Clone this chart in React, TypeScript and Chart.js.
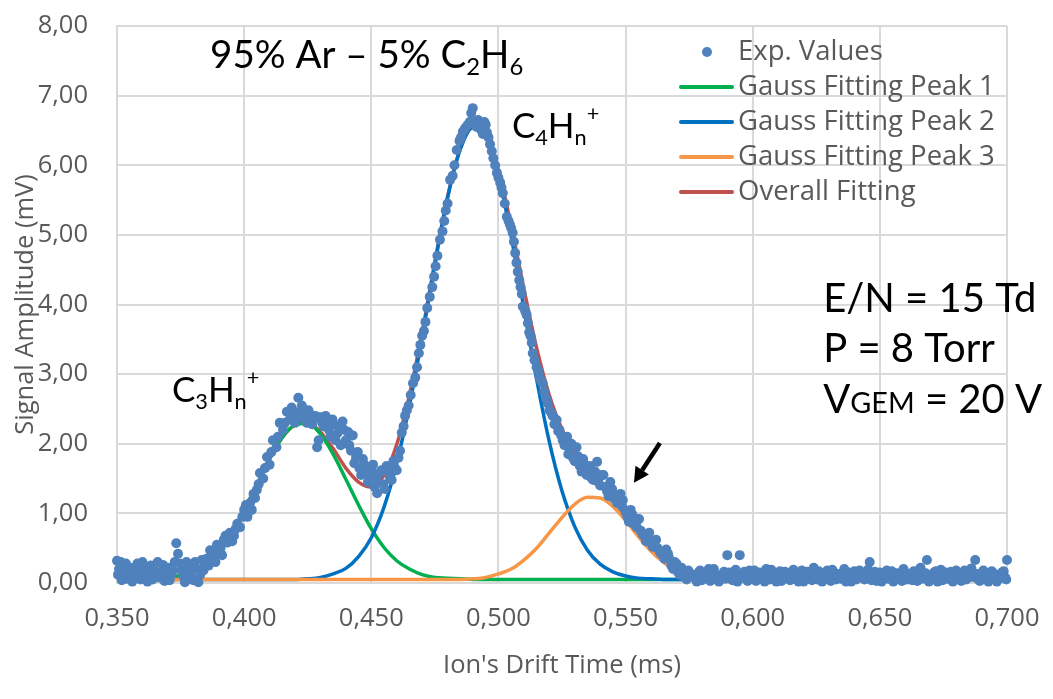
import React, { useEffect, useRef } from "react";
import { Chart, registerables } from "chart.js";

Chart.register(...registerables);

// ---------- DATA ----------
const X_MIN = 0.35;
const X_MAX = 0.7;
const X_STEP = 0.05;
const Y_MIN = 0;
const Y_MAX = 8;
const Y_STEP = 1;

// experimental values [drift time (ms), signal (mV)]
const EXP_POINTS: [number, number][] = [
  [0.3500, 0.32], [0.3508, 0.20], [0.3515, 0.30], [0.3523, 0.10], [0.3530, 0.24], [0.3540, 0.06],
  [0.3553, 0.22], [0.3567, 0.12], [0.3580, 0.28], [0.3593, 0.05], [0.3607, 0.20], [0.3620, 0.02],
  [0.3633, 0.25], [0.3647, 0.10], [0.3660, 0.30], [0.3673, 0.15], [0.3687, 0.03], [0.3700, 0.22],
  [0.3713, 0.12], [0.3727, 0.30], [0.3733, 0.57], [0.3740, 0.42], [0.3753, 0.18], [0.3767, 0.01],
  [0.3780, 0.25], [0.3793, 0.08], [0.3807, 0.30], [0.3820, 0.01], [0.3833, 0.33], [0.3840, 0.18],
  [0.3853, 0.35], [0.3866, 0.47], [0.3880, 0.40], [0.3893, 0.55], [0.3907, 0.50], [0.3920, 0.62],
  [0.3933, 0.58], [0.3944, 0.72], [0.3960, 0.68], [0.3973, 0.85], [0.3984, 0.80], [0.4000, 1.05],
  [0.4013, 0.95], [0.4023, 1.15], [0.4037, 1.28], [0.4050, 1.34], [0.4062, 1.58], [0.4075, 1.50],
  [0.4090, 1.81], [0.4100, 1.70], [0.4113, 2.05], [0.4127, 1.95], [0.4140, 2.30], [0.4153, 2.20],
  [0.4168, 2.46], [0.4180, 2.35], [0.4193, 2.42], [0.4207, 2.45], [0.4213, 2.66], [0.4220, 2.38],
  [0.4233, 2.50], [0.4247, 2.30], [0.4260, 2.42], [0.4273, 2.35], [0.4287, 1.95], [0.4300, 2.38],
  [0.4313, 2.25], [0.4327, 2.32], [0.4340, 2.10], [0.4353, 2.28], [0.4367, 2.15], [0.4380, 1.98],
  [0.4393, 2.20], [0.4409, 2.17], [0.4420, 1.90], [0.4433, 1.72], [0.4447, 1.88], [0.4460, 1.55],
  [0.4473, 1.70], [0.4487, 1.45], [0.4500, 1.62], [0.4513, 1.38], [0.4523, 1.29], [0.4533, 1.58],
  [0.4547, 1.42], [0.4560, 1.68], [0.4573, 1.52], [0.4587, 1.75], [0.4600, 1.62], [0.4613, 1.90],
  [0.4620, 2.16], [0.4633, 2.40], [0.4647, 2.55], [0.4664, 2.87], [0.4673, 2.95], [0.4687, 3.30],
  [0.4700, 3.55], [0.4713, 3.75], [0.4730, 4.11], [0.4740, 4.25], [0.4753, 4.55], [0.4770, 4.93],
  [0.4780, 5.05], [0.4793, 5.35], [0.4810, 5.79], [0.4820, 5.85], [0.4836, 6.22], [0.4847, 6.35],
  [0.4860, 6.48], [0.4873, 6.55], [0.4887, 6.62], [0.4893, 6.75], [0.4899, 6.82], [0.4910, 6.58],
  [0.4920, 6.65], [0.4933, 6.50], [0.4945, 6.62], [0.4955, 6.47], [0.4967, 6.30], [0.4980, 6.10],
  [0.4994, 5.89], [0.5007, 5.75], [0.5017, 5.60], [0.5033, 5.26], [0.5045, 5.15], [0.5056, 5.03],
  [0.5066, 4.74], [0.5076, 4.47], [0.5087, 4.25], [0.5096, 3.97], [0.5106, 3.90], [0.5116, 3.73],
  [0.5126, 3.55], [0.5135, 3.30], [0.5150, 3.10], [0.5162, 2.95], [0.5174, 2.87], [0.5187, 2.65],
  [0.5200, 2.48], [0.5213, 2.40], [0.5229, 2.34], [0.5240, 2.20], [0.5253, 2.05], [0.5270, 2.10],
  [0.5280, 1.91], [0.5293, 1.80], [0.5307, 1.95], [0.5320, 1.68], [0.5333, 1.78], [0.5347, 1.55],
  [0.5360, 1.68], [0.5373, 1.48], [0.5388, 1.74], [0.5400, 1.40], [0.5413, 1.55], [0.5427, 1.32],
  [0.5440, 1.45], [0.5453, 1.22], [0.5467, 1.15], [0.5480, 1.28], [0.5489, 1.19], [0.5500, 1.02],
  [0.5513, 0.88], [0.5527, 0.98], [0.5544, 0.80], [0.5553, 0.92], [0.5567, 0.70], [0.5580, 0.60],
  [0.5593, 0.72], [0.5607, 0.52], [0.5620, 0.62], [0.5634, 0.45], [0.5647, 0.40], [0.5660, 0.48],
  [0.5670, 0.37], [0.5680, 0.25], [0.5693, 0.30], [0.5707, 0.15], [0.5720, 0.22], [0.5733, 0.08],
  [0.5747, 0.18], [0.5767, 0.12], [0.5780, 0.02], [0.5793, 0.18], [0.5807, 0.08], [0.5820, 0.15],
  [0.5833, 0.03], [0.5847, 0.20], [0.5860, 0.10], [0.5873, 0.05], [0.5887, 0.16], [0.5900, 0.40],
  [0.5913, 0.08], [0.5927, 0.14], [0.5940, 0.02], [0.5949, 0.40], [0.5960, 0.12], [0.5973, 0.06],
  [0.5987, 0.18], [0.6000, 0.10], [0.6013, 0.03], [0.6027, 0.15], [0.6040, 0.08], [0.6053, 0.20],
  [0.6067, 0.05], [0.6080, 0.12], [0.6093, 0.02], [0.6107, 0.17], [0.6120, 0.09], [0.6133, 0.14],
  [0.6147, 0.04], [0.6160, 0.19], [0.6173, 0.07], [0.6187, 0.12], [0.6200, 0.02], [0.6213, 0.16],
  [0.6227, 0.10], [0.6240, 0.22], [0.6253, 0.05], [0.6267, 0.13], [0.6280, 0.08], [0.6293, 0.18],
  [0.6307, 0.03], [0.6320, 0.15], [0.6333, 0.10], [0.6347, 0.06], [0.6360, 0.20], [0.6373, 0.12],
  [0.6387, 0.02], [0.6400, 0.17], [0.6413, 0.08], [0.6427, 0.14], [0.6440, 0.05], [0.6453, 0.19],
  [0.6460, 0.30], [0.6473, 0.10], [0.6487, 0.03], [0.6500, 0.15], [0.6513, 0.07], [0.6527, 0.18],
  [0.6540, 0.11], [0.6553, 0.02], [0.6567, 0.14], [0.6580, 0.09], [0.6593, 0.20], [0.6607, 0.05],
  [0.6620, 0.12], [0.6633, 0.17], [0.6647, 0.03], [0.6660, 0.22], [0.6673, 0.10], [0.6685, 0.33],
  [0.6700, 0.07], [0.6713, 0.15], [0.6727, 0.02], [0.6740, 0.19], [0.6753, 0.11], [0.6767, 0.06],
  [0.6780, 0.16], [0.6793, 0.08], [0.6807, 0.13], [0.6820, 0.03], [0.6833, 0.18], [0.6847, 0.10],
  [0.6860, 0.21], [0.6875, 0.33], [0.6887, 0.05], [0.6900, 0.14], [0.6913, 0.09], [0.6927, 0.02],
  [0.6940, 0.17], [0.6953, 0.11], [0.6967, 0.06], [0.6980, 0.15], [0.6993, 0.08], [0.7000, 0.33],
  // interleaved readings
  [0.3504, 0.12], [0.3519, 0.04], [0.3535, 0.28], [0.3547, 0.15], [0.3560, 0.02], [0.3573, 0.20],
  [0.3587, 0.10], [0.3600, 0.30], [0.3613, 0.12], [0.3627, 0.18], [0.3640, 0.05], [0.3653, 0.16],
  [0.3667, 0.08], [0.3680, 0.26], [0.3693, 0.12], [0.3707, 0.04], [0.3720, 0.18], [0.3747, 0.28],
  [0.3760, 0.10], [0.3773, 0.30], [0.3787, 0.16], [0.3800, 0.04], [0.3813, 0.20], [0.3827, 0.12],
  [0.3847, 0.28], [0.3860, 0.25], [0.3873, 0.38], [0.3887, 0.30], [0.3900, 0.45], [0.3913, 0.40],
  [0.3927, 0.68], [0.3953, 0.60], [0.3967, 0.78], [0.3993, 0.95], [0.4007, 1.12], [0.4030, 1.05],
  [0.4043, 1.22], [0.4057, 1.42], [0.4082, 1.65], [0.4107, 1.88], [0.4133, 2.10], [0.4160, 2.30],
  [0.4187, 2.52], [0.4200, 2.30], [0.4227, 2.55], [0.4240, 2.40], [0.4253, 2.48], [0.4267, 2.28],
  [0.4280, 2.40], [0.4293, 2.05], [0.4307, 2.30], [0.4320, 2.40], [0.4333, 2.20], [0.4347, 2.35],
  [0.4360, 2.05], [0.4373, 2.25], [0.4387, 2.32], [0.4400, 2.05], [0.4413, 1.98], [0.4427, 2.12],
  [0.4440, 1.80], [0.4453, 1.65], [0.4467, 1.78], [0.4480, 1.60], [0.4493, 1.52], [0.4507, 1.70],
  [0.4520, 1.50], [0.4540, 1.62], [0.4553, 1.35], [0.4567, 1.60], [0.4580, 1.48], [0.4593, 1.65],
  [0.4607, 1.80], [0.4627, 2.25], [0.4640, 2.48], [0.4655, 2.70], [0.4680, 3.10], [0.4693, 3.42],
  [0.4707, 3.62], [0.4720, 3.95], [0.4747, 4.40], [0.4760, 4.70], [0.4787, 5.20], [0.4800, 5.45],
  [0.4827, 6.00], [0.4853, 6.40], [0.4867, 6.52], [0.4880, 6.58], [0.4905, 6.62], [0.4915, 6.55],
  [0.4927, 6.60], [0.4939, 6.45], [0.4950, 6.58], [0.4961, 6.40], [0.4974, 6.20], [0.4987, 6.00],
  [0.5000, 5.82], [0.5012, 5.68], [0.5025, 5.45], [0.5040, 5.20], [0.5050, 5.10], [0.5061, 4.90],
  [0.5071, 4.60], [0.5082, 4.35], [0.5092, 4.15], [0.5101, 3.95], [0.5111, 3.85], [0.5121, 3.60],
  [0.5131, 3.45], [0.5142, 3.20], [0.5156, 3.05], [0.5168, 2.90], [0.5180, 2.75], [0.5194, 2.58],
  [0.5207, 2.45], [0.5220, 2.28], [0.5235, 2.18], [0.5247, 2.12], [0.5260, 1.98], [0.5275, 1.85],
  [0.5287, 2.00], [0.5300, 1.75], [0.5313, 1.82], [0.5327, 1.60], [0.5340, 1.70], [0.5353, 1.62],
  [0.5367, 1.50], [0.5380, 1.60], [0.5393, 1.45], [0.5407, 1.55], [0.5420, 1.38], [0.5433, 1.25],
  [0.5447, 1.35], [0.5460, 1.20], [0.5473, 1.25], [0.5487, 1.10], [0.5507, 0.95], [0.5520, 1.05],
  [0.5533, 0.85], [0.5547, 0.90], [0.5560, 0.75], [0.5573, 0.68], [0.5587, 0.62], [0.5600, 0.58],
  [0.5613, 0.55], [0.5627, 0.50], [0.5640, 0.42], [0.5653, 0.35], [0.5667, 0.42], [0.5687, 0.20],
  [0.5700, 0.28], [0.5713, 0.12], [0.5727, 0.18], [0.5740, 0.05], [0.5753, 0.12], [0.5773, 0.08],
  [0.5787, 0.15], [0.5800, 0.04], [0.5813, 0.12], [0.5827, 0.20], [0.5840, 0.07], [0.5853, 0.13],
  [0.5867, 0.02], [0.5880, 0.10], [0.5893, 0.06], [0.5907, 0.15], [0.5920, 0.04], [0.5933, 0.19],
  [0.5955, 0.08], [0.5967, 0.16], [0.5980, 0.03], [0.5993, 0.12], [0.6007, 0.18], [0.6020, 0.06],
  [0.6033, 0.10], [0.6047, 0.02], [0.6060, 0.14], [0.6073, 0.19], [0.6087, 0.07], [0.6100, 0.11],
  [0.6113, 0.03], [0.6127, 0.16], [0.6140, 0.10], [0.6153, 0.06], [0.6167, 0.13], [0.6180, 0.02],
  [0.6193, 0.18], [0.6207, 0.08], [0.6220, 0.14], [0.6233, 0.04], [0.6247, 0.11], [0.6260, 0.17],
  [0.6273, 0.02], [0.6287, 0.12], [0.6300, 0.07], [0.6313, 0.19], [0.6327, 0.05], [0.6340, 0.13],
  [0.6353, 0.09], [0.6367, 0.02], [0.6380, 0.15], [0.6393, 0.10], [0.6407, 0.05], [0.6420, 0.18],
  [0.6433, 0.09], [0.6447, 0.13], [0.6467, 0.04], [0.6480, 0.16], [0.6493, 0.09], [0.6507, 0.02],
  [0.6520, 0.12], [0.6533, 0.06], [0.6547, 0.17], [0.6560, 0.08], [0.6573, 0.13], [0.6587, 0.03],
  [0.6600, 0.15], [0.6613, 0.09], [0.6627, 0.04], [0.6640, 0.12], [0.6653, 0.18], [0.6667, 0.06],
  [0.6680, 0.14], [0.6693, 0.02], [0.6707, 0.11], [0.6720, 0.17], [0.6733, 0.08], [0.6747, 0.04],
  [0.6760, 0.15], [0.6773, 0.10], [0.6787, 0.02], [0.6800, 0.18], [0.6813, 0.07], [0.6827, 0.12],
  [0.6840, 0.05], [0.6853, 0.16], [0.6867, 0.09], [0.6880, 0.13], [0.6893, 0.03], [0.6907, 0.18],
  [0.6920, 0.10], [0.6933, 0.06], [0.6947, 0.14], [0.6960, 0.02], [0.6973, 0.12], [0.6987, 0.17],
  [0.6997, 0.05],
];

// sample times for the fitted curves (ms)
const FIT_TIME = [
  0.350, 0.355, 0.360, 0.365, 0.370, 0.375, 0.380, 0.385, 0.390, 0.395,
  0.400, 0.405, 0.410, 0.415, 0.420, 0.425, 0.430, 0.435, 0.440, 0.445,
  0.450, 0.455, 0.460, 0.465, 0.470, 0.475, 0.480, 0.485, 0.490, 0.495,
  0.500, 0.505, 0.510, 0.515, 0.520, 0.525, 0.530, 0.535, 0.540, 0.545,
  0.550, 0.555, 0.560, 0.565, 0.570, 0.575, 0.580, 0.585, 0.590, 0.595,
  0.600, 0.605, 0.610, 0.615, 0.620, 0.625, 0.630, 0.635, 0.640, 0.645,
  0.650, 0.655, 0.660, 0.665, 0.670, 0.675, 0.680, 0.685, 0.690, 0.695,
  0.700,
];

const GAUSS_PEAK_1 = [
  0.05, 0.05, 0.05, 0.06, 0.08, 0.11, 0.18, 0.29, 0.47, 0.72,
  1.05, 1.41, 1.78, 2.09, 2.27, 2.29, 2.14, 1.85, 1.49, 1.12,
  0.78, 0.51, 0.32, 0.20, 0.12, 0.08, 0.07, 0.06, 0.05, 0.05,
  0.05, 0.05, 0.05, 0.05, 0.05, 0.05, 0.05, 0.05, 0.05, 0.05,
  0.05, 0.05, 0.05, 0.05, 0.05, 0.05, 0.05, 0.05, 0.05, 0.05,
  0.05, 0.05, 0.05, 0.05, 0.05, 0.05, 0.05, 0.05, 0.05, 0.05,
  0.05, 0.05, 0.05, 0.05, 0.05, 0.05, 0.05, 0.05, 0.05, 0.05,
  0.05,
];

const GAUSS_PEAK_2 = [
  0.05, 0.05, 0.05, 0.05, 0.05, 0.05, 0.05, 0.05, 0.05, 0.05,
  0.05, 0.05, 0.05, 0.05, 0.05, 0.06, 0.08, 0.13, 0.21, 0.38,
  0.65, 1.09, 1.72, 2.55, 3.53, 4.58, 5.53, 6.23, 6.54, 6.41,
  5.85, 4.98, 3.95, 2.93, 2.03, 1.32, 0.81, 0.47, 0.27, 0.16,
  0.10, 0.07, 0.06, 0.05, 0.05, 0.05, 0.05, 0.05, 0.05, 0.05,
  0.05, 0.05, 0.05, 0.05, 0.05, 0.05, 0.05, 0.05, 0.05, 0.05,
  0.05, 0.05, 0.05, 0.05, 0.05, 0.05, 0.05, 0.05, 0.05, 0.05,
  0.05,
];

const GAUSS_PEAK_3 = [
  0.05, 0.05, 0.05, 0.05, 0.05, 0.05, 0.05, 0.05, 0.05, 0.05,
  0.05, 0.05, 0.05, 0.05, 0.05, 0.05, 0.05, 0.05, 0.05, 0.05,
  0.05, 0.05, 0.05, 0.05, 0.05, 0.05, 0.05, 0.05, 0.06, 0.08,
  0.13, 0.20, 0.33, 0.50, 0.72, 0.94, 1.13, 1.23, 1.22, 1.10,
  0.90, 0.67, 0.46, 0.30, 0.18, 0.12, 0.08, 0.06, 0.05, 0.05,
  0.05, 0.05, 0.05, 0.05, 0.05, 0.05, 0.05, 0.05, 0.05, 0.05,
  0.05, 0.05, 0.05, 0.05, 0.05, 0.05, 0.05, 0.05, 0.05, 0.05,
  0.05,
];

const OVERALL_FIT = [
  0.05, 0.05, 0.05, 0.06, 0.08, 0.11, 0.18, 0.29, 0.47, 0.72,
  1.05, 1.41, 1.78, 2.09, 2.27, 2.30, 2.17, 1.93, 1.65, 1.45,
  1.38, 1.55, 1.99, 2.70, 3.60, 4.61, 5.55, 6.24, 6.55, 6.44,
  5.93, 5.13, 4.23, 3.38, 2.70, 2.21, 1.89, 1.65, 1.44, 1.21,
  0.95, 0.69, 0.47, 0.30, 0.18, 0.12, 0.08, 0.06, 0.05, 0.05,
  0.05, 0.05, 0.05, 0.05, 0.05, 0.05, 0.05, 0.05, 0.05, 0.05,
  0.05, 0.05, 0.05, 0.05, 0.05, 0.05, 0.05, 0.05, 0.05, 0.05,
  0.05,
];

const SERIES_LABELS = [
  "Exp. Values",
  "Gauss Fitting Peak 1",
  "Gauss Fitting Peak 2",
  "Gauss Fitting Peak 3",
  "Overall Fitting",
];

const X_TITLE = "Ion's Drift Time (ms)";
const Y_TITLE = "Signal Amplitude (mV)";

// text runs: r = regular, b = subscript, p = superscript, c = small caps
type Run = [string, "r" | "b" | "p" | "c"];
const TEXT_NOTES: { x: number; y: number; size: number; runs: Run[] }[] = [
  { x: 0.3866, y: 7.40, size: 38.5, runs: [["95% Ar – 5% C", "r"], ["2", "b"], ["H", "r"], ["6", "b"]] },
  { x: 0.5053, y: 6.39, size: 35, runs: [["C", "r"], ["4", "b"], ["H", "r"], ["n", "b"], ["+", "p"]] },
  { x: 0.3716, y: 2.60, size: 35, runs: [["C", "r"], ["3", "b"], ["H", "r"], ["n", "b"], ["+", "p"]] },
  { x: 0.6277, y: 3.89, size: 40, runs: [["E/N = 15 Td", "r"]] },
  { x: 0.6277, y: 3.175, size: 40, runs: [["P = 8 Torr", "r"]] },
  { x: 0.6277, y: 2.44, size: 40, runs: [["V", "r"], ["GEM", "c"], [" = 20 V", "r"]] },
];

// arrow pointing at the third peak: [tail, tip] in data units
const ARROW_TAIL = [0.5635, 2.01];
const ARROW_TIP = [0.5533, 1.44];

// ---------- STYLE ----------
const C_EXP = "#4f81bd";
const C_P1 = "#00b050";
const C_P2 = "#0070c0";
const C_P3 = "#f79646";
const C_ALL = "#c0504d";
const TEXT_GREY = "#595959";
const GRID = "#d9d9d9";
const UI_FONT = "'Open Sans', sans-serif";
const NOTE_FONT = "Lato, 'Open Sans', sans-serif";

function drawRuns(ctx: CanvasRenderingContext2D, x: number, y: number, runs: Run[], size: number) {
  let cx = x;
  ctx.textBaseline = "alphabetic";
  ctx.textAlign = "left";
  ctx.fillStyle = "#000";
  for (const [t, k] of runs) {
    let s = size;
    let dy = 0;
    if (k === "b") { s = size * 0.62; dy = size * 0.2; }
    else if (k === "p") { s = size * 0.62; dy = -size * 0.48; }
    else if (k === "c") { s = size * 0.72; }
    ctx.font = `${s}px ${NOTE_FONT}`;
    ctx.fillText(t, cx, y + dy);
    cx += ctx.measureText(t).width;
  }
}

const overlayPlugin = {
  id: "overlay",
  afterDraw(chart: any) {
    const ctx: CanvasRenderingContext2D = chart.ctx;
    const xs = chart.scales.x;
    const ys = chart.scales.y;
    const area = chart.chartArea;
    ctx.save();

    for (const n of TEXT_NOTES) {
      drawRuns(ctx, xs.getPixelForValue(n.x), ys.getPixelForValue(n.y), n.runs, n.size);
    }

    // arrow
    const x0 = xs.getPixelForValue(ARROW_TAIL[0]);
    const y0 = ys.getPixelForValue(ARROW_TAIL[1]);
    const x1 = xs.getPixelForValue(ARROW_TIP[0]);
    const y1 = ys.getPixelForValue(ARROW_TIP[1]);
    const ang = Math.atan2(y1 - y0, x1 - x0);
    const headLen = 15;
    const headW = 8;
    const bx = x1 - headLen * Math.cos(ang);
    const by = y1 - headLen * Math.sin(ang);
    ctx.strokeStyle = "#000";
    ctx.lineWidth = 4.5;
    ctx.beginPath();
    ctx.moveTo(x0, y0);
    ctx.lineTo(bx, by);
    ctx.stroke();
    ctx.fillStyle = "#000";
    ctx.beginPath();
    ctx.moveTo(x1, y1);
    ctx.lineTo(bx + headW * Math.sin(ang), by - headW * Math.cos(ang));
    ctx.lineTo(bx - headW * Math.sin(ang), by + headW * Math.cos(ang));
    ctx.closePath();
    ctx.fill();

    // legend
    const textX = area.right - 269;
    ctx.font = `27.5px ${UI_FONT}`;
    ctx.textBaseline = "middle";
    ctx.textAlign = "left";
    chart.data.datasets.forEach((ds: any, i: number) => {
      const yy = area.top + 26 + i * 35;
      if (ds.type === undefined) {
        ctx.fillStyle = ds.backgroundColor;
        ctx.beginPath();
        ctx.arc(area.right - 300, yy, 5, 0, Math.PI * 2);
        ctx.fill();
      } else {
        ctx.strokeStyle = ds.borderColor;
        ctx.lineWidth = 4;
        ctx.lineCap = "round";
        ctx.beginPath();
        ctx.moveTo(area.right - 326, yy);
        ctx.lineTo(area.right - 275, yy);
        ctx.stroke();
      }
      ctx.fillStyle = TEXT_GREY;
      ctx.fillText(ds.label, textX, yy);
    });

    ctx.restore();
  },
};

function curve(values: number[]) {
  return FIT_TIME.map((t, i) => ({ x: t, y: values[i] }));
}

function lineSet(label: string, values: number[], color: string, order: number) {
  return {
    type: "line" as const,
    label,
    data: curve(values),
    borderColor: color,
    backgroundColor: color,
    borderWidth: 3.5,
    pointRadius: 0,
    fill: false,
    cubicInterpolationMode: "monotone" as const,
    order,
  };
}

export default function App() {
  const ref = useRef<HTMLCanvasElement>(null);

  useEffect(() => {
    document.body.style.margin = "0";
    Chart.defaults.font.family = UI_FONT;
    Chart.defaults.color = TEXT_GREY;

    const chart = new Chart(ref.current as HTMLCanvasElement, {
      type: "scatter",
      data: {
        datasets: [
          {
            label: SERIES_LABELS[0],
            data: EXP_POINTS.map(([x, y]) => ({ x, y })),
            backgroundColor: C_EXP,
            borderColor: C_EXP,
            borderWidth: 0,
            pointRadius: 5,
            showLine: false,
            clip: false,
            order: 0,
          } as any,
          lineSet(SERIES_LABELS[1], GAUSS_PEAK_1, C_P1, 3),
          lineSet(SERIES_LABELS[2], GAUSS_PEAK_2, C_P2, 2),
          lineSet(SERIES_LABELS[3], GAUSS_PEAK_3, C_P3, 1),
          lineSet(SERIES_LABELS[4], OVERALL_FIT, C_ALL, 4),
        ],
      },
      options: {
        responsive: false,
        animation: false,
        events: [],
        layout: { autoPadding: false, padding: { left: 0, top: 26, right: 46, bottom: 0 } },
        plugins: {
          legend: { display: false },
          tooltip: { enabled: false },
        },
        scales: {
          x: {
            type: "linear",
            min: X_MIN,
            max: X_MAX,
            afterFit: (s: any) => {
              s.height = 116;
              s.paddingLeft = 0;
              s.paddingRight = 0;
            },
            ticks: {
              stepSize: X_STEP,
              autoSkip: false,
              maxRotation: 0,
              padding: 20,
              color: TEXT_GREY,
              font: { size: 25.5 },
              callback: (v: any) => Number(v).toFixed(3).replace(".", ","),
            },
            grid: { color: GRID, lineWidth: 2, drawTicks: false },
            border: { color: GRID, width: 2 },
            title: {
              display: true,
              text: X_TITLE,
              color: TEXT_GREY,
              font: { size: 25.5 },
              padding: { top: 0, bottom: 18 },
            },
          },
          y: {
            type: "linear",
            min: Y_MIN,
            max: Y_MAX,
            afterFit: (s: any) => {
              s.width = 117;
              s.paddingTop = 0;
              s.paddingBottom = 0;
            },
            ticks: {
              stepSize: Y_STEP,
              padding: 29,
              color: TEXT_GREY,
              font: { size: 25.5 },
              callback: (v: any) => Number(v).toFixed(2).replace(".", ","),
            },
            grid: { color: GRID, lineWidth: 2, drawTicks: false },
            border: { color: GRID, width: 2 },
            title: {
              display: true,
              text: Y_TITLE,
              color: TEXT_GREY,
              font: { size: 25.5 },
              padding: { top: 10, bottom: 0 },
            },
          },
        },
      } as any,
      plugins: [overlayPlugin],
    });

    return () => chart.destroy();
  }, []);

  return (
    <div style={{ width: 1053, height: 699, background: "#fff" }}>
      <canvas ref={ref} width={1053} height={699} style={{ display: "block" }} />
    </div>
  );
}
